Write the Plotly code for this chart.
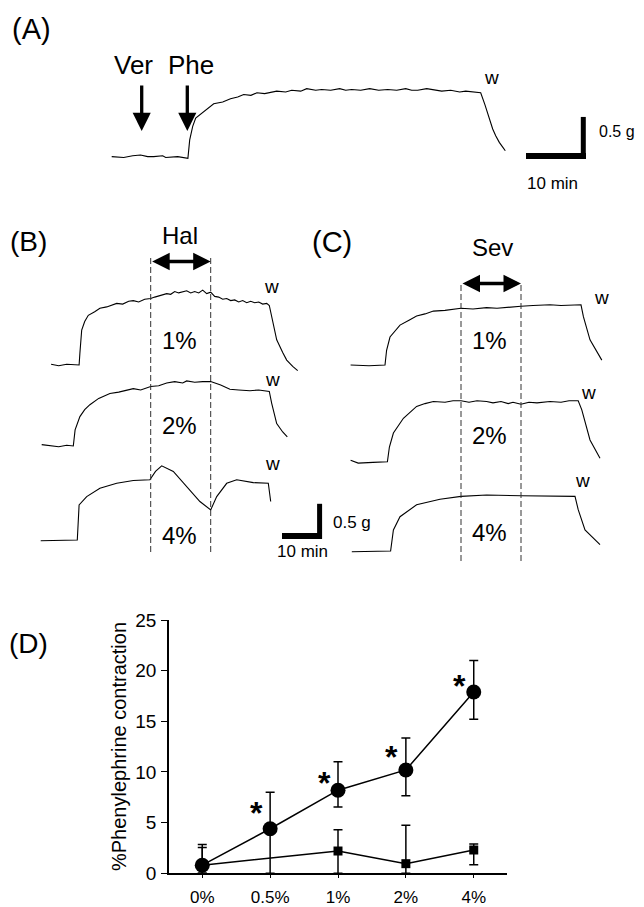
import plotly.graph_objects as go

W, H = 644, 907          # browser window
OFF = 8                  # default page margin of the html body
FW, FH = W - OFF, H - OFF
FONT = "Liberation Sans, Arial, Helvetica, sans-serif"

# ---------------- Panel D data ----------------
conc = ["0%", "0.5%", "1%", "2%", "4%"]
hal_mean = [0.8, 4.4, 8.2, 10.2, 17.9]
hal_err_plus = [2.05, 3.6, 2.8, 3.15, 3.1]
hal_err_minus = [0.8, 4.4, 1.65, 2.55, 2.7]
hal_sig = [False, True, True, True, True]
hal_star_y = [None, 6.7, 9.7, 12.3, 19.3]

sev_conc = ["0%", "1%", "2%", "4%"]
sev_mean = [0.8, 2.2, 0.95, 2.3]
sev_err_plus = [1.75, 2.1, 3.8, 0.6]
sev_err_minus = [0.8, 2.2, 0.95, 1.45]

yticks_d = [0, 5, 10, 15, 20, 25]

# ---------------- Panel A trace (time min, tension g) ----------------
a_time = [0, 2, 3.5, 4.8, 6, 7, 8.5, 9, 11, 12.7, 13.0, 13.5, 14.0, 15.3, 17.0, 18.5, 19.8, 21, 22, 23.2, 24.2,
          25.5, 27.5, 29, 30, 31.5, 32.5, 34, 35, 36.5, 38, 39, 40, 41.5, 43, 44.5, 46, 47.5, 49, 50, 51,
          52.5, 53.6, 55, 56.5, 58, 59, 60, 61.5, 62.2, 63.0, 63.5, 64.0, 64.6, 65.2, 65.6]
a_tens = [0.01, 0.0, 0.02, 0.03, 0.01, 0.01, 0.02, 0.0, 0.01, -0.01, 0.21, 0.37, 0.47, 0.54, 0.64, 0.66, 0.70,
          0.72, 0.75, 0.74, 0.77, 0.76, 0.79, 0.78, 0.80, 0.79, 0.82, 0.80, 0.81, 0.80, 0.82, 0.80, 0.81, 0.80,
          0.82, 0.80, 0.81, 0.80, 0.82, 0.80, 0.80, 0.82, 0.81, 0.79, 0.80, 0.78, 0.79, 0.78, 0.77, 0.63, 0.45,
          0.34, 0.26, 0.18, 0.12, 0.08]
a_ver_time = 5.0
a_phe_time = 12.6

# ---------------- Panel B (halothane) traces ----------------
b1_time = [-24.9, -23, -21, -19.5, -17.9, -17.7, -17.25, -16.5, -15.6, -14, -12.7, -11, -9.5, -8.5, -7, -5.5,
           -4.35, -3, -1.5, 0, 1, 2, 3, 4, 5, 6, 7, 8, 9, 10, 11, 12, 13, 14, 15, 16, 17, 18, 19, 20, 21, 22,
           23, 24, 25, 26, 27, 28, 29, 29.65, 30.25, 31.5, 33, 34, 35.5, 36.75]
b1_tens = [0.01, -0.01, 0.01, 0.0, 0.0, 0.17, 0.5, 0.62, 0.71, 0.76, 0.81, 0.83, 0.86, 0.88, 0.87, 0.91,
           0.92, 0.90, 0.94, 0.95, 0.97, 0.99, 1.0, 1.02, 1.01, 1.05, 1.03, 1.04, 1.06, 1.03, 1.05, 1.03, 1.07,
           1.02, 1.04, 0.98, 0.97, 0.94, 0.95, 0.92, 0.93, 0.90, 0.92, 0.89, 0.91, 0.89, 0.90, 0.87, 0.88, 0.85,
           0.69, 0.36, 0.18, 0.07, -0.02, -0.08]
b2_time = [-27.25, -25, -23, -21, -19.35, -18.9, -17.7, -16.5, -15.2, -13, -10.2, -8, -6, -4.35, -2.5, 0, 2,
           4, 6, 8, 9, 11, 13, 15, 17.5, 19.8, 22, 24.8, 27, 29.65, 30.25, 31.5, 33, 34.15]
b2_tens = [0.02, 0.0, -0.01, 0.01, 0.0, 0.23, 0.42, 0.52, 0.59, 0.68, 0.75, 0.77, 0.80, 0.82, 0.80, 0.85,
           0.86, 0.90, 0.92, 0.90, 0.93, 0.91, 0.92, 0.92, 0.87, 0.81, 0.80, 0.79, 0.80, 0.78,
           0.61, 0.32, 0.2, 0.13]
b3_time = [-27.5, -18.35, -17.9, -16, -12.7, -8.5, -4.35, -0.2, 1.2, 2.75, 5.65, 9, 12.3, 15, 16.5, 19,
           21.5, 25.65, 29.4, 30]
b3_tens = [-0.01, 0.0, 0.5, 0.62, 0.74, 0.81, 0.85, 0.86, 0.98, 1.06, 0.98, 0.76, 0.55, 0.43, 0.62, 0.81,
           0.86, 0.82, 0.81, 0.55]

# ---------------- Panel C (sevoflurane) traces ----------------
c1_time = [-27.6, -23, -19, -18.6, -17.75, -15.25, -13, -11.1, -9, -6.9, -4, -2, 0, 3, 6.4, 9, 12, 15, 18,
           22.25, 25, 28, 30, 30.6, 32.25, 35.2]
c1_tens = [0.0, -0.01, 0.0, 0.21, 0.4, 0.57, 0.64, 0.7, 0.73, 0.77, 0.78, 0.80, 0.81, 0.80, 0.82, 0.81, 0.83,
           0.84, 0.85, 0.86, 0.85, 0.86, 0.86, 0.69, 0.36, 0.07]
c2_time = [-27.6, -25.7, -22, -18.4, -17.9, -16.9, -14.4, -12.5, -11.1, -9, -6.9, -4, -2, 0, 2, 4, 6.4, 8,
           10, 11.8, 13, 15, 17, 19, 22.25, 25, 27, 29.3, 30.2, 32.25, 34.75]
c2_tens = [0.02, -0.02, -0.01, 0.0, 0.21, 0.41, 0.62, 0.72, 0.79, 0.83, 0.86, 0.85, 0.87, 0.87, 0.85, 0.87,
           0.86, 0.84, 0.86, 0.83, 0.85, 0.82, 0.85, 0.84, 0.86, 0.85, 0.87, 0.87, 0.74, 0.31, 0.05]
c3_time = [-27.3, -17.6, -16.9, -15.25, -11.1, -5.25, 0, 6.4, 15, 22.25, 28.5, 29.3, 31, 34.75]
c3_tens = [-0.01, 0.0, 0.3, 0.49, 0.66, 0.74, 0.78, 0.80, 0.79, 0.78, 0.78, 0.59, 0.3, 0.09]

pct_labels = ["1%", "2%", "4%"]
exposure = [0, 15]          # anaesthetic on/off (min)
scale_min, scale_g = 10, 0.5


def fx(px):
    return (px - OFF) / FW


def fy(py):
    return 1 - (py - OFF) / FH


fig = go.Figure()

# ---------- Panel D ----------
fig.add_trace(go.Scatter(
    x=conc, y=hal_mean, mode="lines+markers", xaxis="x", yaxis="y",
    line=dict(color="black", width=1.5),
    marker=dict(symbol="circle", size=15, color="black"),
    error_y=dict(type="data", symmetric=False, array=hal_err_plus, arrayminus=hal_err_minus,
                 color="black", thickness=1.5, width=4.5),
    showlegend=False, cliponaxis=False))
fig.add_trace(go.Scatter(
    x=sev_conc, y=sev_mean, mode="lines+markers", xaxis="x", yaxis="y",
    line=dict(color="black", width=1.5),
    marker=dict(symbol="square", size=9, color="black"),
    error_y=dict(type="data", symmetric=False, array=sev_err_plus, arrayminus=sev_err_minus,
                 color="black", thickness=1.5, width=4.5),
    showlegend=False, cliponaxis=False))

annotations = []
for c, s, sy in zip(conc, hal_sig, hal_star_y):
    if s:
        annotations.append(dict(x=c, y=sy, xref="x", yref="y", text="<b>*</b>", showarrow=False,
                                xanchor="center", yanchor="middle",
                                xshift=-14, yshift=-8, font=dict(family=FONT, size=32, color="black")))

annotations.append(dict(x=fx(119), y=fy(747), xref="paper", yref="paper",
                        xanchor="center", yanchor="middle",
                        text="%Phenylephrine contraction", textangle=-90, showarrow=False,
                        font=dict(family=FONT, size=20, color="black")))

# ---------- trace panels ----------
ax_cfg = dict(visible=False, showgrid=False, zeroline=False, fixedrange=True)

A_ox, A_oy, A_sx, A_sy = 111.7, 157.5, 6.0, 84.0
B_ox, C_ox, BC_sx, BC_sy = 150.7, 461.0, 4.0, 70.0
B_rows = [365, 446, 540]
C_rows = [365, 461.7, 551]


def xr(ox, sx):
    return [(OFF - ox) / sx, (W - ox) / sx]


def yr(oy, sy):
    return [(oy - H) / sy, (oy - OFF) / sy]


layout_axes = {}
layout_axes["xaxis2"] = dict(ax_cfg, domain=[0, 1], range=xr(A_ox, A_sx), anchor="y2")
layout_axes["yaxis2"] = dict(ax_cfg, domain=[0, 1], range=yr(A_oy, A_sy), anchor="x2")
layout_axes["xaxis3"] = dict(ax_cfg, domain=[0, 1], range=xr(B_ox, BC_sx), anchor="y3")
layout_axes["xaxis4"] = dict(ax_cfg, domain=[0, 1], range=xr(C_ox, BC_sx), anchor="y6")
for i, base in enumerate(B_rows):
    layout_axes[f"yaxis{3 + i}"] = dict(ax_cfg, domain=[0, 1], range=yr(base, BC_sy), anchor="x3")
for i, base in enumerate(C_rows):
    layout_axes[f"yaxis{6 + i}"] = dict(ax_cfg, domain=[0, 1], range=yr(base, BC_sy), anchor="x4")

tline = dict(color="black", width=1.1)
fig.add_trace(go.Scatter(x=a_time, y=a_tens, mode="lines", line=tline, xaxis="x2", yaxis="y2",
                         showlegend=False, hoverinfo="skip"))
for i, (t, g) in enumerate([(b1_time, b1_tens), (b2_time, b2_tens), (b3_time, b3_tens)]):
    fig.add_trace(go.Scatter(x=t, y=g, mode="lines", line=tline, xaxis="x3", yaxis=f"y{3 + i}",
                             showlegend=False, hoverinfo="skip"))
for i, (t, g) in enumerate([(c1_time, c1_tens), (c2_time, c2_tens), (c3_time, c3_tens)]):
    fig.add_trace(go.Scatter(x=t, y=g, mode="lines", line=tline, xaxis="x4", yaxis=f"y{6 + i}",
                             showlegend=False, hoverinfo="skip"))

shapes = []
for t in exposure:
    shapes.append(dict(type="line", xref="x3", yref="paper", x0=t, x1=t, y0=fy(552), y1=fy(257),
                       line=dict(color="#333", width=1, dash="6px,3px")))
    shapes.append(dict(type="line", xref="x4", yref="paper", x0=t, x1=t, y0=fy(561), y1=fy(283),
                       line=dict(color="#333", width=1, dash="6px,3px")))

sbA_t0 = (526 - A_ox) / A_sx
sbA_y = (A_oy - 156) / A_sy
shapes.append(dict(type="line", xref="x2", yref="y2", x0=sbA_t0, x1=sbA_t0 + scale_min,
                   y0=sbA_y, y1=sbA_y, line=dict(color="black", width=6)))
shapes.append(dict(type="line", xref="x2", yref="y2", x0=sbA_t0 + scale_min - 0.45, x1=sbA_t0 + scale_min - 0.45,
                   y0=sbA_y - 0.035, y1=sbA_y - 0.035 + scale_g, line=dict(color="black", width=5)))
sbB_t0 = (282 - B_ox) / BC_sx
sbB_y = (B_rows[2] - 536) / BC_sy
shapes.append(dict(type="line", xref="x3", yref="y5", x0=sbB_t0, x1=sbB_t0 + scale_min,
                   y0=sbB_y, y1=sbB_y, line=dict(color="black", width=6)))
shapes.append(dict(type="line", xref="x3", yref="y5", x0=sbB_t0 + scale_min - 0.6, x1=sbB_t0 + scale_min - 0.6,
                   y0=sbB_y - 0.04, y1=sbB_y - 0.04 + scale_g, line=dict(color="black", width=5)))

for t in [a_ver_time, a_phe_time]:
    annotations.append(dict(x=t, y=(A_oy - 131) / A_sy, xref="x2", yref="y2", ax=0, ay=-47,
                            showarrow=True, arrowhead=2, arrowsize=1.1, arrowwidth=3.3,
                            arrowcolor="black", text=""))
for xr_, yy in [("x3", 261.5), ("x4", 283.5)]:
    annotations.append(dict(x=exposure[1], y=fy(yy), xref=xr_, yref="paper", ax=exposure[0], ay=0,
                            axref=xr_, ayref="pixel", showarrow=True, arrowhead=2, startarrowhead=2,
                            arrowside="end+start", arrowsize=1.0, startarrowsize=1.0, arrowwidth=3.5,
                            arrowcolor="black", text=""))


def txt(x, y, s, size, **kw):
    d = dict(x=fx(x), y=fy(y), xref="paper", yref="paper", text=s, showarrow=False,
             xanchor="center", yanchor="middle",
             font=dict(family=FONT, size=size, color="black"))
    d.update(kw)
    annotations.append(d)


txt(31, 29, "(A)", 29)
txt(28, 242, "(B)", 28)
txt(332, 242, "(C)", 29)
txt(28, 643, "(D)", 28)
txt(133.5, 65, "Ver", 26)
txt(190.5, 65, "Phe", 26)
txt(491, 78, "w", 19)
txt(617, 131, "0.5 g", 16)
txt(552, 183, "10 min", 17)
txt(180, 235, "Hal", 24)
for lab, yy in zip(pct_labels, [340, 425, 535]):
    txt(179, yy, lab, 24)
for xx, yy in [(271, 286), (272, 379), (272, 463)]:
    txt(xx, yy, "w", 19)
txt(492, 248, "Sev", 24)
for lab, yy in zip(pct_labels, [340, 435, 532]):
    txt(489, yy, lab, 24)
for xx, yy in [(601, 298), (588, 392), (582, 480)]:
    txt(xx, yy, "w", 19)
txt(352, 522, "0.5 g", 17)
txt(302, 551, "10 min", 17)

fig.update_layout(
    width=FW, height=FH,
    margin=dict(l=0, r=0, t=0, b=0),
    paper_bgcolor="white", plot_bgcolor="rgba(0,0,0,0)",
    showlegend=False,
    font=dict(family=FONT, color="black"),
    xaxis=dict(domain=[fx(169), fx(507)], range=[-0.49, 4.49], type="category",
               categoryorder="array", categoryarray=conc,
               showline=True, linecolor="black", linewidth=1.5, ticks="outside", ticklen=3,
               tickwidth=1.2, tickcolor="black", showgrid=False, zeroline=False,
               tickfont=dict(family=FONT, size=17, color="black"), ticklabelstandoff=5,
               automargin=False, anchor="y", fixedrange=True),
    yaxis=dict(domain=[fy(873.3), fy(620)], range=[0, 25], tickvals=yticks_d,
               showline=True, linecolor="black", linewidth=1.5, ticks="outside", ticklen=6,
               tickwidth=1.2, tickcolor="black", showgrid=False, zeroline=False,
               tickfont=dict(family=FONT, size=19, color="black"), ticklabelstandoff=1,
               automargin=False, anchor="x", fixedrange=True),
    shapes=shapes,
    annotations=annotations,
    **layout_axes,
)

fig.write_html("out.html")
